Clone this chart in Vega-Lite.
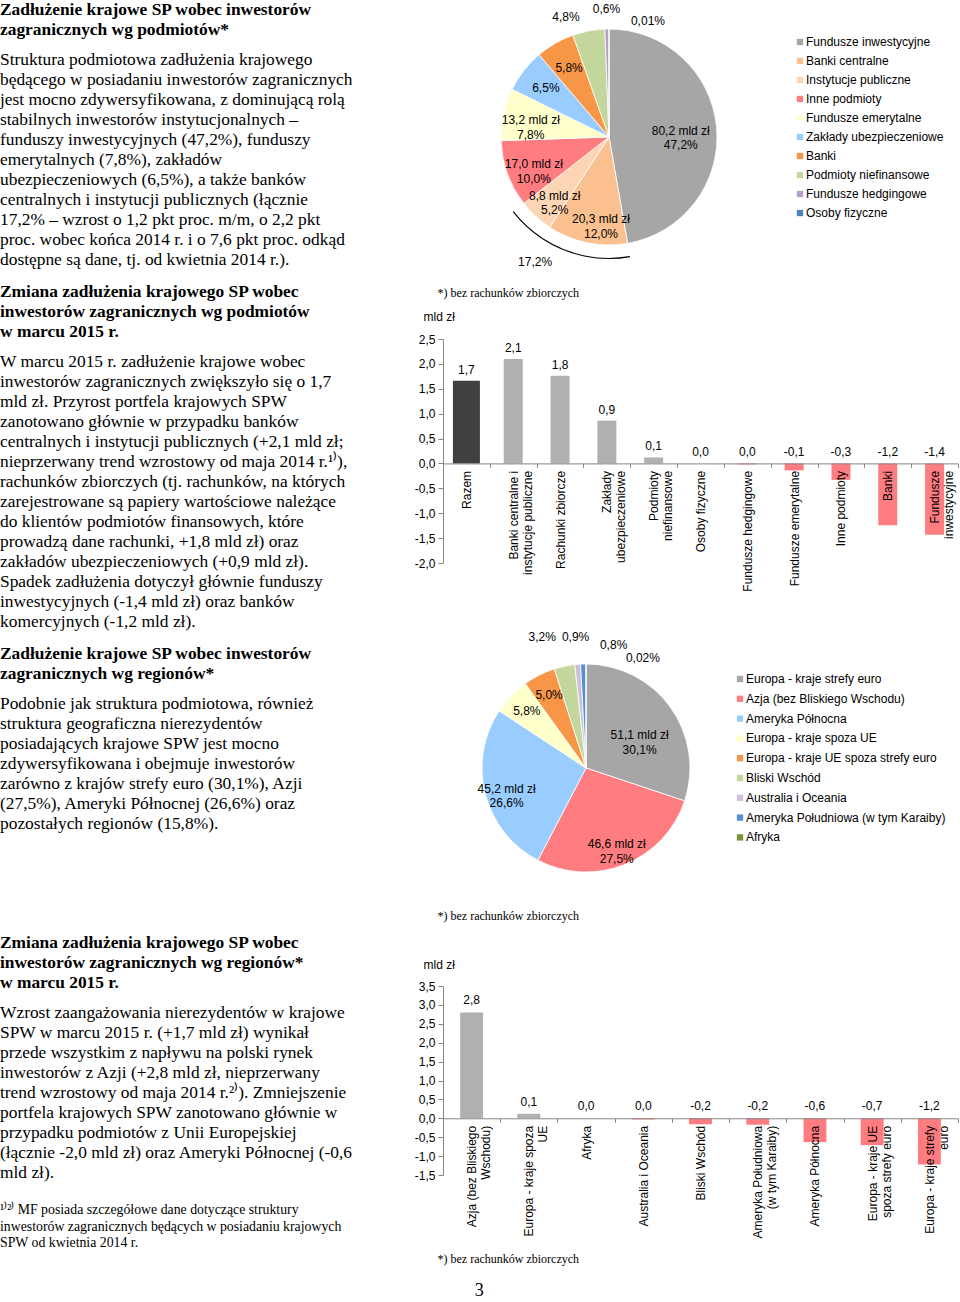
{
"$schema": "https://vega.github.io/schema/vega-lite/v6.json",
"padding": 0,
"autosize": {"type": "pad"},
"background": "white",
"title": {"text": "3", "orient": "bottom", "anchor": "middle", "font": "Liberation Serif", "fontSize": 18, "fontWeight": "normal", "color": "#000", "offset": 18},
"columns": 2,
"spacing": {"row": 65, "column": 86},
"align": "each",
"bounds": "flush",
"resolve": {"scale": {"x": "independent", "y": "independent", "color": "independent", "theta": "independent"}, "axis": {"x": "independent", "y": "independent"}, "legend": {"color": "independent"}},
"concat": [
{
 "width": 357, "height": 274,
 "data": {"values": [
  {"i": 0, "k": "h", "t": "Zadłużenie krajowe SP wobec inwestorów"},
  {"i": 1, "k": "h", "t": "zagranicznych wg podmiotów*"},
  {"i": 2, "k": "b", "t": "Struktura podmiotowa zadłużenia krajowego"},
  {"i": 3, "k": "b", "t": "będącego w posiadaniu inwestorów zagranicznych"},
  {"i": 4, "k": "b", "t": "jest mocno zdywersyfikowana, z dominującą rolą"},
  {"i": 5, "k": "b", "t": "stabilnych inwestorów instytucjonalnych –"},
  {"i": 6, "k": "b", "t": "funduszy inwestycyjnych (47,2%), funduszy"},
  {"i": 7, "k": "b", "t": "emerytalnych (7,8%), zakładów"},
  {"i": 8, "k": "b", "t": "ubezpieczeniowych (6,5%), a także banków"},
  {"i": 9, "k": "b", "t": "centralnych i instytucji publicznych (łącznie"},
  {"i": 10, "k": "b", "t": "17,2% – wzrost o 1,2 pkt proc. m/m, o 2,2 pkt"},
  {"i": 11, "k": "b", "t": "proc. wobec końca 2014 r. i o 7,6 pkt proc. odkąd"},
  {"i": 12, "k": "b", "t": "dostępne są dane, tj. od kwietnia 2014 r.)."}
 ]},
 "encoding": {
  "x": {"value": 0},
  "y": {"field": "i", "type": "quantitative", "axis": null, "scale": {"domain": [-0.475, 13.225], "reverse": true, "nice": false, "zero": false}},
  "text": {"field": "t", "type": "nominal"}
 },
 "layer": [
  {"transform": [{"filter": "datum.k === 'h'"}], "mark": {"type": "text", "align": "left", "baseline": "middle", "font": "Liberation Serif", "fontSize": 17.4, "fontWeight": "bold", "color": "#000"}},
  {"transform": [{"filter": "datum.k === 'b'"}], "mark": {"type": "text", "align": "left", "baseline": "middle", "font": "Liberation Serif", "fontSize": 17.4, "color": "#000", "dy": 10}}
 ]
},
{
 "width": 332, "height": 274,
 "data": {"values": [
  {"idx": 0, "name": "Fundusze inwestycyjne", "pct": 47.2, "label": "80,2 mld zł\n47,2%"},
  {"idx": 1, "name": "Banki centralne", "pct": 12.0, "label": "20,3 mld zł\n12,0%"},
  {"idx": 2, "name": "Instytucje publiczne", "pct": 5.2, "label": "8,8 mld zł\n5,2%"},
  {"idx": 3, "name": "Inne podmioty", "pct": 10.0, "label": "17,0 mld zł\n10,0%"},
  {"idx": 4, "name": "Fundusze emerytalne", "pct": 7.8, "label": "13,2 mld zł\n7,8%"},
  {"idx": 5, "name": "Zakłady ubezpieczeniowe", "pct": 6.5, "label": "6,5%"},
  {"idx": 6, "name": "Banki", "pct": 5.8, "label": "5,8%"},
  {"idx": 7, "name": "Podmioty niefinansowe", "pct": 4.8, "label": "4,8%"},
  {"idx": 8, "name": "Fundusze hedgingowe", "pct": 0.6, "label": "0,6%"},
  {"idx": 9, "name": "Osoby fizyczne", "pct": 0.01, "label": "0,01%"}
 ]},
 "encoding": {
  "theta": {"field": "pct", "type": "quantitative", "stack": true},
  "order": {"field": "idx", "type": "quantitative"}
 },
 "layer": [
  {"mark": {"type": "arc", "outerRadius": 108, "stroke": "#ffffff", "strokeWidth": 0.8},
   "encoding": {"color": {"field": "name", "type": "nominal",
     "scale": {"domain": ["Fundusze inwestycyjne", "Banki centralne", "Instytucje publiczne", "Inne podmioty", "Fundusze emerytalne", "Zakłady ubezpieczeniowe", "Banki", "Podmioty niefinansowe", "Fundusze hedgingowe", "Osoby fizyczne"],
               "range": ["#A6A6A6", "#FAC090", "#FCD5B5", "#FF7C80", "#FFFFCC", "#99CCFF", "#F79646", "#C3D69B", "#B3A2C7", "#4F81BD"]},
     "legend": {"orient": "none", "legendX": 351, "legendY": 36, "title": null, "symbolType": "square", "symbolSize": 40, "symbolStrokeWidth": 0, "labelFontSize": 12, "labelColor": "#000", "labelFont": "Liberation Sans", "rowPadding": 7, "labelOffset": 0, "padding": 0, "labelLimit": 300}}}},
  {"mark": {"type": "arc", "outerRadius": 122, "innerRadius": 120.9},
   "encoding": {"detail": {"field": "name"}, "color": {"value": "#000"}, "opacity": {"condition": {"test": "datum.idx == 1 || datum.idx == 2", "value": 1}, "value": 0}}},
  {"mark": {"type": "text", "radius": 80, "fontSize": 12, "lineBreak": "\n", "lineHeight": 14.5, "color": "#000"},
   "encoding": {"detail": {"field": "name"}, "text": {"condition": {"test": "datum.idx >= 2 && datum.idx <= 6", "field": "label"}, "value": ""}}},
  {"mark": {"type": "text", "radius": 72, "fontSize": 12, "lineBreak": "\n", "lineHeight": 14.5, "color": "#000"},
   "encoding": {"detail": {"field": "name"}, "text": {"condition": {"test": "datum.idx == 0", "field": "label"}, "value": ""}}},
  {"mark": {"type": "text", "radius": 84, "fontSize": 12, "lineBreak": "\n", "lineHeight": 14.5, "color": "#000", "dx": 9},
   "encoding": {"detail": {"field": "name"}, "text": {"condition": {"test": "datum.idx == 1", "field": "label"}, "value": ""}}},
  {"mark": {"type": "text", "radius": 128, "fontSize": 12, "color": "#000"},
   "encoding": {"detail": {"field": "name"}, "text": {"condition": {"test": "datum.idx == 8", "field": "label"}, "value": ""}}},
  {"mark": {"type": "text", "radius": 128, "fontSize": 12, "color": "#000", "dx": -19, "dy": 6},
   "encoding": {"detail": {"field": "name"}, "text": {"condition": {"test": "datum.idx == 7", "field": "label"}, "value": ""}}},
  {"mark": {"type": "text", "radius": 128, "fontSize": 12, "color": "#000", "dx": 39, "dy": 12},
   "encoding": {"detail": {"field": "name"}, "text": {"condition": {"test": "datum.idx == 9", "field": "label"}, "value": ""}}},
  {"mark": {"type": "text", "radius": 128, "fontSize": 12, "color": "#000", "dx": -48},
   "encoding": {"detail": {"field": "name"}, "text": {"condition": {"test": "datum.idx == 1", "value": "17,2%"}, "value": ""}}}
 ]
},
{
 "width": 357, "height": 224,
 "data": {"values": [
  {"i": 0, "k": "h", "t": "Zmiana zadłużenia krajowego SP wobec"},
  {"i": 1, "k": "h", "t": "inwestorów zagranicznych wg podmiotów"},
  {"i": 2, "k": "h", "t": "w marcu 2015 r."},
  {"i": 3, "k": "b", "t": "W marcu 2015 r. zadłużenie krajowe wobec"},
  {"i": 4, "k": "b", "t": "inwestorów zagranicznych zwiększyło się o 1,7"},
  {"i": 5, "k": "b", "t": "mld zł. Przyrost portfela krajowych SPW"},
  {"i": 6, "k": "b", "t": "zanotowano głównie w przypadku banków"},
  {"i": 7, "k": "b", "t": "centralnych i instytucji publicznych (+2,1 mld zł;"},
  {"i": 8, "k": "b", "t": "nieprzerwany trend wzrostowy od maja 2014 r.¹⁾),"},
  {"i": 9, "k": "b", "t": "rachunków zbiorczych (tj. rachunków, na których"},
  {"i": 10, "k": "b", "t": "zarejestrowane są papiery wartościowe należące"},
  {"i": 11, "k": "b", "t": "do klientów podmiotów finansowych, które"},
  {"i": 12, "k": "b", "t": "prowadzą dane rachunki, +1,8 mld zł) oraz"},
  {"i": 13, "k": "b", "t": "zakładów ubezpieczeniowych (+0,9 mld zł)."},
  {"i": 14, "k": "b", "t": "Spadek zadłużenia dotyczył głównie funduszy"},
  {"i": 15, "k": "b", "t": "inwestycyjnych (-1,4 mld zł) oraz banków"},
  {"i": 16, "k": "b", "t": "komercyjnych (-1,2 mld zł)."}
 ]},
 "encoding": {
  "x": {"value": 0},
  "y": {"field": "i", "type": "quantitative", "axis": null, "scale": {"domain": [2.35, 13.55], "reverse": true, "nice": false, "zero": false}},
  "text": {"field": "t", "type": "nominal"}
 },
 "layer": [
  {"transform": [{"filter": "datum.k === 'h'"}], "mark": {"type": "text", "align": "left", "baseline": "middle", "font": "Liberation Serif", "fontSize": 17.4, "fontWeight": "bold", "color": "#000"}},
  {"transform": [{"filter": "datum.k === 'b'"}], "mark": {"type": "text", "align": "left", "baseline": "middle", "font": "Liberation Serif", "fontSize": 17.4, "color": "#000", "dy": 10}}
 ]
},
{
 "width": 515, "height": 224,
 "data": {"values": [
  {"cat": "Razem", "value": 1.66},
  {"cat": "Banki centralne i\ninstytucje publiczne", "value": 2.1},
  {"cat": "Rachunki zbiorcze", "value": 1.76},
  {"cat": "Zakłady\nubezpieczeniowe", "value": 0.86},
  {"cat": "Podmioty\nniefinansowe", "value": 0.12},
  {"cat": "Osoby fizyczne", "value": 0.0},
  {"cat": "Fundusze hedgingowe", "value": -0.02},
  {"cat": "Fundusze emerytalne", "value": -0.14},
  {"cat": "Inne podmioty", "value": -0.33},
  {"cat": "Banki", "value": -1.24},
  {"cat": "Fundusze\ninwestycyjne", "value": -1.43}
 ]},
 "resolve": {"axis": {"x": "independent", "y": "independent"}},
 "layer": [
  {"mark": {"type": "bar"},
   "encoding": {
    "x": {"field": "cat", "type": "nominal", "sort": null, "scale": {"paddingInner": 0, "paddingOuter": 0},
      "axis": {"orient": "bottom", "offset": -99.6, "zindex": 1, "labelAngle": -90, "labelAlign": "right", "labelBaseline": "middle", "labelPadding": 3, "labelExpr": "split(datum.label, '\\n')", "labelFontSize": 12, "labelColor": "#000", "labelLineHeight": 14, "labelLimit": 400, "labelOverlap": false, "tickBand": "extent", "tickSize": 4, "tickColor": "#868686", "domainColor": "#868686",
        "title": "*) bez rachunków zbiorczych", "titleFont": "Liberation Serif", "titleFontSize": 12, "titleFontWeight": "normal", "titleColor": "#000", "titleAngle": 0, "titleAlign": "left", "titleBaseline": "middle", "titleX": -6, "titleY": -171.4}},
    "y": {"field": "value", "type": "quantitative", "scale": {"domain": [-2, 2.5], "nice": false, "zero": false},
      "axis": {"orient": "left", "values": [-2, -1.5, -1, -0.5, 0, 0.5, 1, 1.5, 2, 2.5], "format": ".1f", "grid": false, "labelFontSize": 12, "labelColor": "#000", "labelPadding": 3, "labelOverlap": false, "tickSize": 5, "tickColor": "#868686", "domainColor": "#868686",
        "title": "mld zł", "titleAngle": 0, "titleAlign": "left", "titleBaseline": "middle", "titleX": -20, "titleY": -23, "titleFontSize": 12, "titleFontWeight": "normal", "titleColor": "#000"}},
    "size": {"condition": {"test": "datum.cat === 'Razem'", "value": 27}, "value": 19},
    "color": {"condition": [{"test": "datum.cat === 'Razem'", "value": "#404040"}, {"test": "datum.value < 0", "value": "#FF7C80"}], "value": "#B0B0B0"}
   }},
  {"mark": {"type": "text", "baseline": "bottom", "dy": -4, "fontSize": 12, "color": "#000"},
   "encoding": {
    "x": {"field": "cat", "type": "nominal", "sort": null, "axis": null},
    "y": {"field": "value", "type": "quantitative", "axis": null},
    "text": {"condition": {"test": "datum.value >= 0", "field": "value", "type": "quantitative", "format": ".1f"}, "value": ""}
   }},
  {"mark": {"type": "text", "baseline": "bottom", "dy": -4, "fontSize": 12, "color": "#000"},
   "encoding": {
    "x": {"field": "cat", "type": "nominal", "sort": null, "axis": null},
    "y": {"datum": 0, "type": "quantitative", "axis": null},
    "text": {"condition": {"test": "datum.value < 0", "field": "value", "type": "quantitative", "format": ".1f"}, "value": ""}
   }}
 ]
},
{
 "width": 357, "height": 293,
 "data": {"values": [
  {"i": 0, "k": "h", "t": "Zadłużenie krajowe SP wobec inwestorów"},
  {"i": 1, "k": "h", "t": "zagranicznych wg regionów*"},
  {"i": 2, "k": "b", "t": "Podobnie jak struktura podmiotowa, również"},
  {"i": 3, "k": "b", "t": "struktura geograficzna nierezydentów"},
  {"i": 4, "k": "b", "t": "posiadających krajowe SPW jest mocno"},
  {"i": 5, "k": "b", "t": "zdywersyfikowana i obejmuje inwestorów"},
  {"i": 6, "k": "b", "t": "zarówno z krajów strefy euro (30,1%), Azji"},
  {"i": 7, "k": "b", "t": "(27,5%), Ameryki Północnej (26,6%) oraz"},
  {"i": 8, "k": "b", "t": "pozostałych regionów (15,8%)."}
 ]},
 "encoding": {
  "x": {"value": 0},
  "y": {"field": "i", "type": "quantitative", "axis": null, "scale": {"domain": [-1.3, 13.35], "reverse": true, "nice": false, "zero": false}},
  "text": {"field": "t", "type": "nominal"}
 },
 "layer": [
  {"transform": [{"filter": "datum.k === 'h'"}], "mark": {"type": "text", "align": "left", "baseline": "middle", "font": "Liberation Serif", "fontSize": 17.4, "fontWeight": "bold", "color": "#000"}},
  {"transform": [{"filter": "datum.k === 'b'"}], "mark": {"type": "text", "align": "left", "baseline": "middle", "font": "Liberation Serif", "fontSize": 17.4, "color": "#000", "dy": 10}}
 ]
},
{
 "width": 286, "height": 280,
 "data": {"values": [
  {"idx": 0, "name": "Europa - kraje strefy euro", "pct": 30.1, "label": "51,1 mld zł\n30,1%"},
  {"idx": 1, "name": "Azja (bez Bliskiego Wschodu)", "pct": 27.5, "label": "46,6 mld zł\n27,5%"},
  {"idx": 2, "name": "Ameryka Północna", "pct": 26.6, "label": "45,2 mld zł\n26,6%"},
  {"idx": 3, "name": "Europa - kraje spoza UE", "pct": 5.8, "label": "5,8%"},
  {"idx": 4, "name": "Europa - kraje UE spoza strefy euro", "pct": 5.0, "label": "5,0%"},
  {"idx": 5, "name": "Bliski Wschód", "pct": 3.2, "label": "3,2%"},
  {"idx": 6, "name": "Australia i Oceania", "pct": 0.9, "label": "0,9%"},
  {"idx": 7, "name": "Ameryka Południowa (w tym Karaiby)", "pct": 0.8, "label": "0,8%"},
  {"idx": 8, "name": "Afryka", "pct": 0.02, "label": "0,02%"}
 ]},
 "encoding": {
  "theta": {"field": "pct", "type": "quantitative", "stack": true},
  "order": {"field": "idx", "type": "quantitative"}
 },
 "layer": [
  {"mark": {"type": "arc", "outerRadius": 104, "stroke": "#ffffff", "strokeWidth": 0.8},
   "encoding": {"color": {"field": "name", "type": "nominal",
     "scale": {"domain": ["Europa - kraje strefy euro", "Azja (bez Bliskiego Wschodu)", "Ameryka Północna", "Europa - kraje spoza UE", "Europa - kraje UE spoza strefy euro", "Bliski Wschód", "Australia i Oceania", "Ameryka Południowa (w tym Karaiby)", "Afryka"],
               "range": ["#A6A6A6", "#FF7C80", "#99CCFF", "#FFFFCC", "#F79646", "#C3D69B", "#CCC1DA", "#558ED5", "#77933C"]},
     "legend": {"orient": "none", "legendX": 291, "legendY": 45, "title": null, "symbolType": "square", "symbolSize": 40, "symbolStrokeWidth": 0, "labelFontSize": 12, "labelColor": "#000", "labelFont": "Liberation Sans", "rowPadding": 7.8, "labelOffset": 0, "padding": 0, "labelLimit": 300}}}},
  {"mark": {"type": "text", "radius": 82, "fontSize": 12, "lineBreak": "\n", "lineHeight": 14.5, "color": "#000"},
   "encoding": {"detail": {"field": "name"}, "text": {"condition": {"test": "datum.idx >= 1 && datum.idx <= 4", "field": "label"}, "value": ""}}},
  {"mark": {"type": "text", "radius": 66, "fontSize": 12, "lineBreak": "\n", "lineHeight": 14.5, "color": "#000", "dy": 6},
   "encoding": {"detail": {"field": "name"}, "text": {"condition": {"test": "datum.idx == 0", "field": "label"}, "value": ""}}},
  {"mark": {"type": "text", "radius": 131, "fontSize": 12, "color": "#000"},
   "encoding": {"detail": {"field": "name"}, "text": {"condition": {"test": "datum.idx == 6", "field": "label"}, "value": ""}}},
  {"mark": {"type": "text", "radius": 134, "fontSize": 12, "color": "#000", "dx": -16},
   "encoding": {"detail": {"field": "name"}, "text": {"condition": {"test": "datum.idx == 5", "field": "label"}, "value": ""}}},
  {"mark": {"type": "text", "radius": 128, "fontSize": 12, "color": "#000", "dx": 31, "dy": 5},
   "encoding": {"detail": {"field": "name"}, "text": {"condition": {"test": "datum.idx == 7", "field": "label"}, "value": ""}}},
  {"mark": {"type": "text", "radius": 128, "fontSize": 12, "color": "#000", "dx": 57, "dy": 18},
   "encoding": {"detail": {"field": "name"}, "text": {"condition": {"test": "datum.idx == 8", "field": "label"}, "value": ""}}}
 ]
},
{
 "width": 357, "height": 189,
 "data": {"values": [
  {"i": 0, "k": "h", "t": "Zmiana zadłużenia krajowego SP wobec"},
  {"i": 1, "k": "h", "t": "inwestorów zagranicznych wg regionów*"},
  {"i": 2, "k": "h", "t": "w marcu 2015 r."},
  {"i": 3, "k": "b", "t": "Wzrost zaangażowania nierezydentów w krajowe"},
  {"i": 4, "k": "b", "t": "SPW w marcu 2015 r. (+1,7 mld zł) wynikał"},
  {"i": 5, "k": "b", "t": "przede wszystkim z napływu na polski rynek"},
  {"i": 6, "k": "b", "t": "inwestorów z Azji (+2,8 mld zł, nieprzerwany"},
  {"i": 7, "k": "b", "t": "trend wzrostowy od maja 2014 r.²⁾). Zmniejszenie"},
  {"i": 8, "k": "b", "t": "portfela krajowych SPW zanotowano głównie w"},
  {"i": 9, "k": "b", "t": "przypadku podmiotów z Unii Europejskiej"},
  {"i": 10, "k": "b", "t": "(łącznie -2,0 mld zł) oraz Ameryki Północnej (-0,6"},
  {"i": 11, "k": "b", "t": "mld zł)."},
  {"i": 13, "k": "n", "t": "¹⁾²⁾   MF posiada szczegółowe dane dotyczące struktury\ninwestorów zagranicznych będących w posiadaniu krajowych\nSPW od kwietnia 2014 r."}
 ]},
 "encoding": {
  "x": {"value": 0},
  "y": {"field": "i", "type": "quantitative", "axis": null, "scale": {"domain": [2.15, 11.6], "reverse": true, "nice": false, "zero": false}},
  "text": {"field": "t", "type": "nominal"}
 },
 "layer": [
  {"transform": [{"filter": "datum.k === 'h'"}], "mark": {"type": "text", "align": "left", "baseline": "middle", "font": "Liberation Serif", "fontSize": 17.4, "fontWeight": "bold", "color": "#000"}},
  {"transform": [{"filter": "datum.k === 'b'"}], "mark": {"type": "text", "align": "left", "baseline": "middle", "font": "Liberation Serif", "fontSize": 17.4, "color": "#000", "dy": 10}},
  {"transform": [{"filter": "datum.k === 'n'"}], "mark": {"type": "text", "align": "left", "baseline": "top", "font": "Liberation Serif", "fontSize": 13.8, "lineHeight": 16.5, "lineBreak": "\n", "color": "#000"}}
 ]
},
{
 "width": 515, "height": 189,
 "data": {"values": [
  {"cat": "Azja (bez Bliskiego\nWschodu)", "value": 2.8},
  {"cat": "Europa - kraje spoza\nUE", "value": 0.12},
  {"cat": "Afryka", "value": 0.0},
  {"cat": "Australia i Oceania", "value": -0.03},
  {"cat": "Bliski Wschód", "value": -0.16},
  {"cat": "Ameryka Południowa\n(w tym Karaiby)", "value": -0.17},
  {"cat": "Ameryka Północna", "value": -0.63},
  {"cat": "Europa - kraje UE\nspoza strefy euro", "value": -0.71},
  {"cat": "Europa - kraje strefy\neuro", "value": -1.22}
 ]},
 "resolve": {"axis": {"x": "independent", "y": "independent"}},
 "layer": [
  {"mark": {"type": "bar", "width": {"band": 0.4}},
   "encoding": {
    "x": {"field": "cat", "type": "nominal", "sort": null, "scale": {"paddingInner": 0, "paddingOuter": 0},
      "axis": {"orient": "bottom", "offset": -56.7, "zindex": 1, "labelAngle": -90, "labelAlign": "right", "labelBaseline": "middle", "labelPadding": 3, "labelExpr": "split(datum.label, '\\n')", "labelFontSize": 12, "labelColor": "#000", "labelLineHeight": 14, "labelLimit": 400, "labelOverlap": false, "tickBand": "extent", "tickSize": 4, "tickColor": "#868686", "domainColor": "#868686",
        "title": "*) bez rachunków zbiorczych", "titleFont": "Liberation Serif", "titleFontSize": 12, "titleFontWeight": "normal", "titleColor": "#000", "titleAngle": 0, "titleAlign": "left", "titleBaseline": "middle", "titleX": -6, "titleY": 139.7}},
    "y": {"field": "value", "type": "quantitative", "scale": {"domain": [-1.5, 3.5], "nice": false, "zero": false},
      "axis": {"orient": "left", "values": [-1.5, -1, -0.5, 0, 0.5, 1, 1.5, 2, 2.5, 3, 3.5], "format": ".1f", "grid": false, "labelFontSize": 12, "labelColor": "#000", "labelPadding": 3, "labelOverlap": false, "tickSize": 5, "tickColor": "#868686", "domainColor": "#868686",
        "title": "mld zł", "titleAngle": 0, "titleAlign": "left", "titleBaseline": "middle", "titleX": -20, "titleY": -22, "titleFontSize": 12, "titleFontWeight": "normal", "titleColor": "#000"}},
    "color": {"condition": {"test": "datum.value < 0", "value": "#FF7C80"}, "value": "#B0B0B0"}
   }},
  {"mark": {"type": "text", "baseline": "bottom", "dy": -5, "fontSize": 12, "color": "#000"},
   "encoding": {
    "x": {"field": "cat", "type": "nominal", "sort": null,
      "axis": {"orient": "top", "labels": false, "ticks": false, "domain": false, "title": "*) bez rachunków zbiorczych", "titleFont": "Liberation Serif", "titleFontSize": 12, "titleFontWeight": "normal", "titleColor": "#000", "titleAngle": 0, "titleAlign": "left", "titleBaseline": "middle", "titleX": -6, "titleY": -71}},
    "y": {"field": "value", "type": "quantitative", "axis": null},
    "text": {"condition": {"test": "datum.value >= 0", "field": "value", "type": "quantitative", "format": ".1f"}, "value": ""}
   }},
  {"mark": {"type": "text", "baseline": "bottom", "dy": -5, "fontSize": 12, "color": "#000"},
   "encoding": {
    "x": {"field": "cat", "type": "nominal", "sort": null, "axis": null},
    "y": {"datum": 0, "type": "quantitative", "axis": null},
    "text": {"condition": {"test": "datum.value < 0", "field": "value", "type": "quantitative", "format": ".1f"}, "value": ""}
   }}
 ]
}
],
"config": {
 "view": {"stroke": null},
 "font": "Liberation Sans",
 "locale": {"number": {"decimal": ",", "thousands": " ", "grouping": [3], "currency": ["", " zł"], "minus": "-"}},
 "axis": {"grid": false},
 "text": {"color": "#000"}
}
}
